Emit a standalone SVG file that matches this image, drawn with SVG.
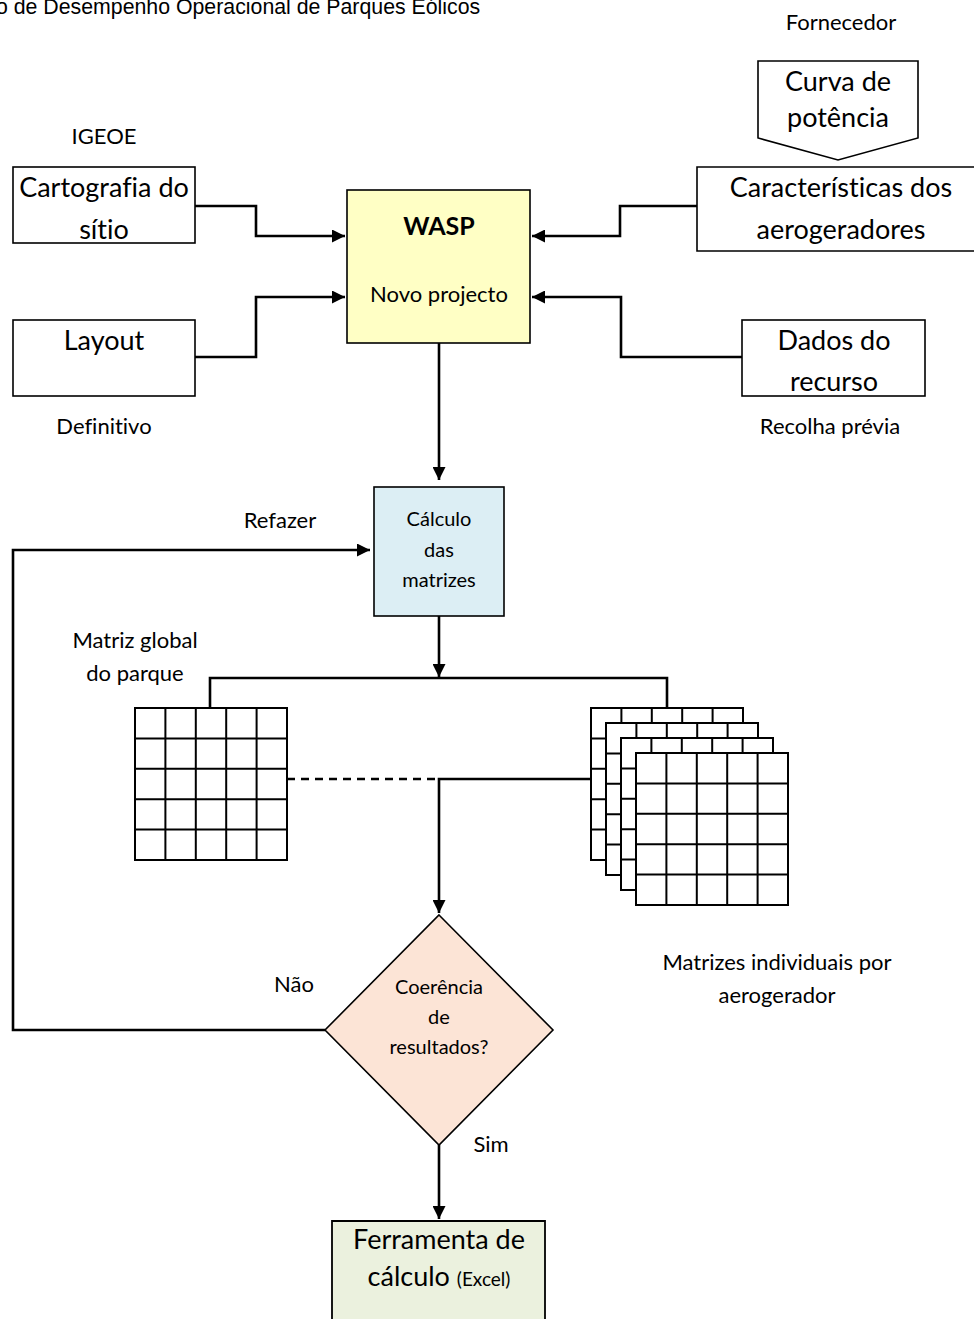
<svg xmlns="http://www.w3.org/2000/svg" width="974" height="1319" viewBox="0 0 974 1319">
<defs>
<marker id="ah" viewBox="0 0 10 10" refX="10" refY="5" markerWidth="5" markerHeight="5" markerUnits="strokeWidth" orient="auto">
<path d="M0,0 L10,5 L0,10 z" fill="#000"/>
</marker>
<g id="grid5">
<rect width="152" height="152" fill="#fff" stroke="#000" stroke-width="2"/>
<path d="M30.4,0 V152 M60.8,0 V152 M91.2,0 V152 M121.6,0 V152 M0,30.4 H152 M0,60.8 H152 M0,91.2 H152 M0,121.6 H152" fill="none" stroke="#000" stroke-width="2"/>
</g>
</defs>
<style>
.t{font-family:Lato,"Open Sans",sans-serif;fill:#000;text-anchor:middle;font-variant-ligatures:none}
.box{fill:#fff;stroke:#000;stroke-width:1.6}
.c{fill:none;stroke:#000;stroke-width:2.6}
</style>
<rect width="974" height="1319" fill="#fff"/>
<text x="-4" y="14" font-family="'Liberation Sans',Arial,sans-serif" font-size="21.3" fill="#000">o de Desempenho Operacional de Parques Eólicos</text>

<g class="t" font-size="22">
<text x="841" y="30">Fornecedor</text>
<text x="104" y="144">IGEOE</text>
<text x="104" y="434">Definitivo</text>
<text x="830" y="434">Recolha prévia</text>
<text x="280" y="528">Refazer</text>
<text x="135" y="648">Matriz global</text>
<text x="135" y="681">do parque</text>
<text x="294" y="992">Não</text>
<text x="491" y="1152">Sim</text>
<text x="777" y="970">Matrizes individuais por</text>
<text x="777" y="1003">aerogerador</text>
</g>

<g id="connectors">
<path class="c" d="M195,206 H256 V236 H345" marker-end="url(#ah)"/>
<path class="c" d="M195,357 H256 V297 H345" marker-end="url(#ah)"/>
<path class="c" d="M697,206 H620 V236 H532" marker-end="url(#ah)"/>
<path class="c" d="M742,357 H621 V297 H532" marker-end="url(#ah)"/>
<path class="c" d="M439,343 V480" marker-end="url(#ah)"/>
<path class="c" d="M439,616 V677" marker-end="url(#ah)"/>
<path class="c" d="M210,708 V678 H667 V708" stroke-width="2"/>
<path class="c" d="M287,779 H439" stroke-width="2" stroke-dasharray="8,6"/>
<path class="c" d="M591,779 H439 V913" stroke-width="2" marker-end="url(#ah)"/>
<path class="c" d="M325,1030 H13 V550 H370" stroke-width="2" marker-end="url(#ah)"/>
<path class="c" d="M439,1145 V1219" marker-end="url(#ah)"/>
</g>

<g id="curva">
<path class="box" d="M758,61 H918 V138 L838,160 L758,138 Z"/>
<text class="t" font-size="27" x="838" y="91">Curva de</text>
<text class="t" font-size="27" x="838" y="127">potência</text>
</g>
<g id="caracteristicas">
<path class="box" d="M974,167 H697 V251 H974"/>
<text class="t" font-size="27" x="841" y="197">Características dos</text>
<text class="t" font-size="27" x="841" y="239">aerogeradores</text>
</g>
<g id="cartografia">
<rect class="box" x="13" y="167" width="182" height="76"/>
<text class="t" font-size="27" x="104" y="197">Cartografia do</text>
<text class="t" font-size="27" x="104" y="239">sítio</text>
</g>
<g id="layout">
<rect class="box" x="13" y="320" width="182" height="76"/>
<text class="t" font-size="27" x="104" y="350">Layout</text>
</g>
<g id="dados">
<rect class="box" x="742" y="320" width="183" height="76"/>
<text class="t" font-size="27" x="834" y="350">Dados do</text>
<text class="t" font-size="27" x="834" y="391">recurso</text>
</g>
<g id="wasp">
<rect x="347" y="190" width="183" height="153" fill="#FFFFC5" stroke="#000" stroke-width="1.6"/>
<text class="t" font-size="25" font-weight="bold" x="439" y="235">WASP</text>
<text class="t" font-size="22" x="439" y="302">Novo projecto</text>
</g>
<g id="calculo">
<rect x="374" y="487" width="130" height="129" fill="#DCEEF4" stroke="#000" stroke-width="1.6"/>
<text class="t" font-size="20" x="439" y="526">Cálculo</text>
<text class="t" font-size="20" x="439" y="557">das</text>
<text class="t" font-size="20" x="439" y="587">matrizes</text>
</g>
<g id="matriz-global">
<use href="#grid5" x="135" y="708"/>
</g>
<g id="matrizes-individuais">
<use href="#grid5" x="591" y="708"/>
<use href="#grid5" x="606" y="723"/>
<use href="#grid5" x="621" y="738"/>
<use href="#grid5" x="636" y="753"/>
</g>
<g id="coerencia">
<path d="M439,915 L553,1030 L439,1145 L325,1030 Z" fill="#FCE4D6" stroke="#000" stroke-width="1.6"/>
<text class="t" font-size="20" x="439" y="994">Coerência</text>
<text class="t" font-size="20" x="439" y="1024">de</text>
<text class="t" font-size="20" x="439" y="1054">resultados?</text>
</g>
<g id="ferramenta">
<path d="M332,1319 V1221 H545 V1319" fill="#EBF1DE" stroke="#000" stroke-width="1.8"/>
<text class="t" font-size="27" x="439" y="1249">Ferramenta de</text>
<text class="t" font-size="27" x="439" y="1286">cálculo <tspan font-size="19">(Excel)</tspan></text>
</g>
</svg>
